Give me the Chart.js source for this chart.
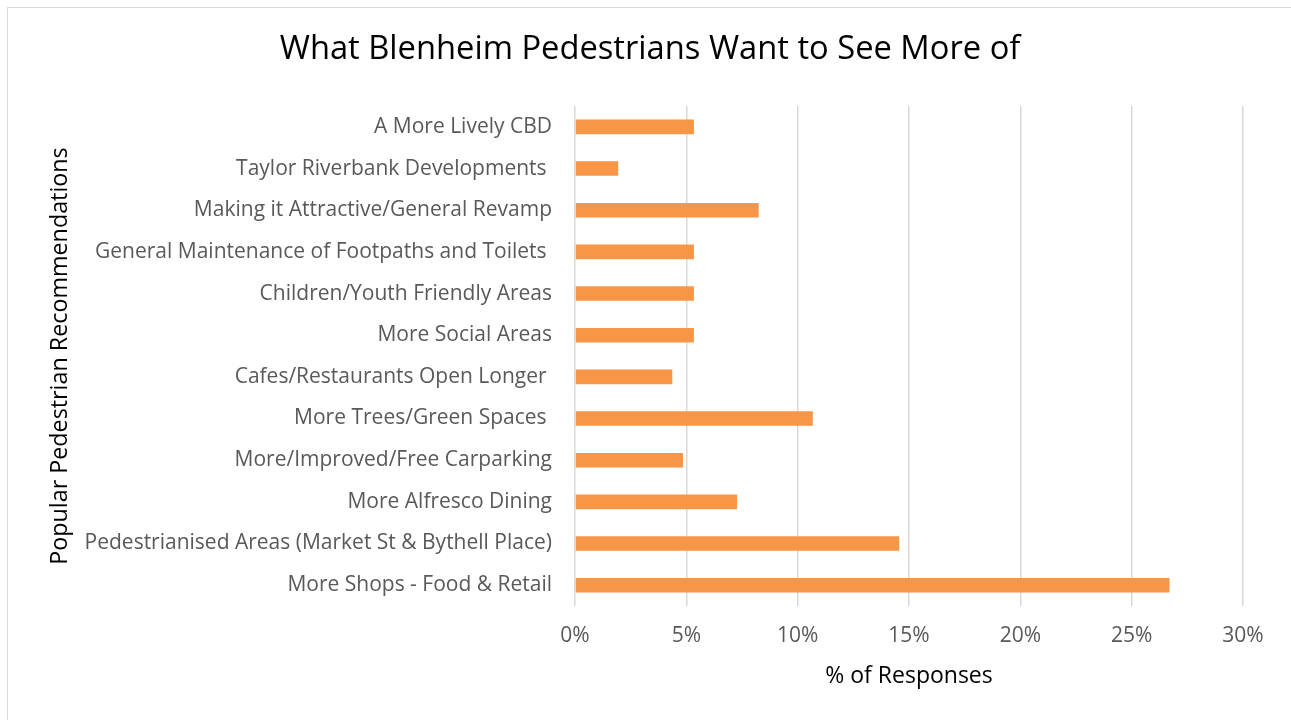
<!DOCTYPE html>
<html>
<head>
<meta charset="utf-8">
<title>What Blenheim Pedestrians Want to See More of</title>
<script src="https://cdn.jsdelivr.net/npm/chart.js@4/dist/chart.umd.min.js"></script>
<style>
  html, body { margin: 0; padding: 0; background: #ffffff; }
  #wrap { position: relative; width: 1291px; height: 720px; }
</style>
</head>
<body>
<div id="wrap"><canvas id="myChart"></canvas></div>
<script>
'use strict';

// Survey results (share of all responses, top to bottom)

var recommendations = [
  'A More Lively CBD',
  'Taylor Riverbank Developments ',
  'Making it Attractive/General Revamp',
  'General Maintenance of Footpaths and Toilets ',
  'Children/Youth Friendly Areas',
  'More Social Areas',
  'Cafes/Restaurants Open Longer ',
  'More Trees/Green Spaces ',
  'More/Improved/Free Carparking',
  'More Alfresco Dining',
  'Pedestrianised Areas (Market St & Bythell Place)',
  'More Shops - Food & Retail'
];
var responseShare = [5.34, 1.94, 8.25, 5.34, 5.34, 5.34, 4.37, 10.68, 4.85, 7.28, 14.56, 26.70];
var percentTicks = [0, 5, 10, 15, 20, 25, 30];

var fontFamily = '"Open Sans", Lato, sans-serif';
var barColor = '#F79646';

// white page and the thin frame round the chart
var framePlugin = {
  id: 'frame',
  beforeDraw: function(chart) {
    var ctx = chart.ctx;
    ctx.save();
    ctx.fillStyle = '#ffffff';
    ctx.fillRect(0, 0, chart.width, chart.height);
    ctx.strokeStyle = '#d9d9d9';
    ctx.lineWidth = 1;
    ctx.strokeRect(7.5, 7.5, chart.width + 20, chart.height + 20);
    ctx.restore();
  }
};

var canvas = document.getElementById('myChart');
var ctx = canvas.getContext('2d');

var data = {
  labels: recommendations,
  datasets: [{
    data: responseShare,
    backgroundColor: barColor,
    borderWidth: 0,
    categoryPercentage: 1,
    barPercentage: 0.35
  }]
};

var barChartConfig = {
  type: 'bar',
  data: data,
  plugins: [framePlugin],
  options: {
    indexAxis: 'y',
    responsive: true,
    maintainAspectRatio: false,
    animation: false,
    // left padding keeps the title centred where it belongs
    layout: { padding: { left: 57, right: 48, top: 0, bottom: 0 } },
    plugins: {
      legend: { display: false },
      tooltip: { enabled: false },
      title: {
        display: true,
        text: 'What Blenheim Pedestrians Want to See More of',
        color: '#000000',
        font: { family: fontFamily, size: 32.7, weight: 'normal', lineHeight: 1.2 },
        padding: { top: 30.4, bottom: 36.4 }
      }
    },
    scales: {
      x: {
        min: 0,
        max: 30,
        afterBuildTicks: function(scale) {
          scale.ticks = percentTicks.map(function(v) { return { value: v }; });
        },
        afterFit: function(scale) { scale.height = 114; },
        grid: { color: '#d9d9d9', lineWidth: 1.5, drawTicks: false },
        border: { display: false },
        ticks: {
          color: '#595959',
          padding: 17.5,
          maxRotation: 0,
          font: { family: fontFamily, size: 21 },
          callback: function(value) { return value + '%'; }
        },
        title: {
          display: true,
          text: '% of Responses',
          color: '#000000',
          font: { family: fontFamily, size: 23, lineHeight: 1.2 },
          padding: { top: 0, bottom: 30.2 }
        }
      },
      y: {
        afterFit: function(scale) { scale.width = 575 - 57; },
        grid: { display: false, drawTicks: false },
        border: { display: false },
        ticks: {
          color: '#595959',
          padding: 23,
          font: { family: fontFamily, size: 21 }
        },
        title: {
          display: true,
          text: 'Popular Pedestrian Recommendations',
          color: '#000000',
          font: { family: fontFamily, size: 23.3, lineHeight: 1.2 },
          padding: { top: -11, bottom: 0 }
        }
      }
    }
  }
};

var barChart = new Chart(ctx, barChartConfig);
</script>
</body>
</html>
